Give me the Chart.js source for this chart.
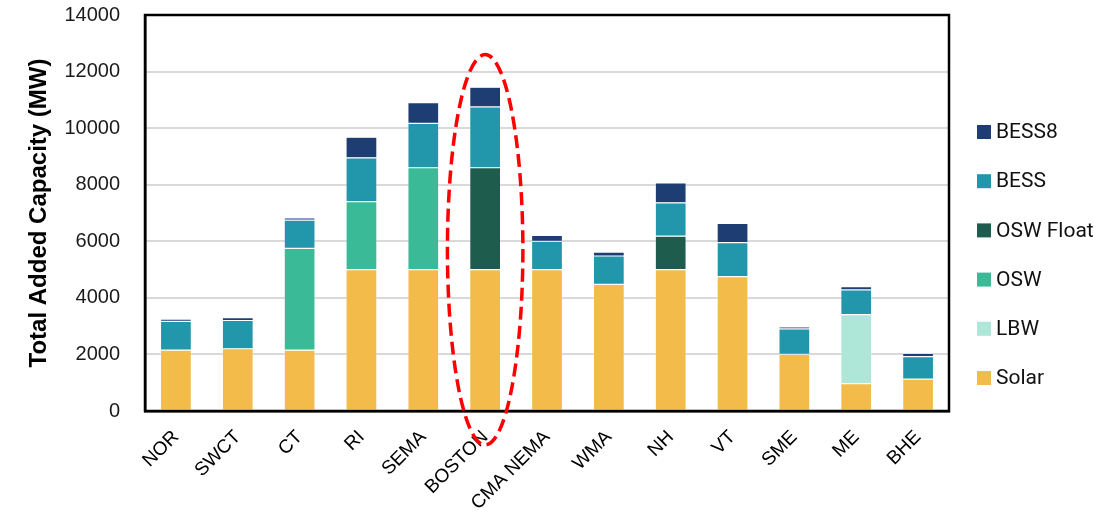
<!DOCTYPE html>
<html>
<head>
<meta charset="utf-8">
<script src="https://cdn.jsdelivr.net/npm/chart.js@4/dist/chart.umd.min.js"></script>
<style>
  html, body { margin: 0; padding: 0; background: #fff; overflow: hidden; }
  #wrap { width: 1094px; height: 527px; position: relative; }
</style>
</head>
<body>
<div id="wrap"><canvas id="c"></canvas></div>
<script>
// Zones
const zones = ['NOR', 'SWCT', 'CT', 'RI', 'SEMA', 'BOSTON', 'CMA NEMA', 'WMA', 'NH', 'VT', 'SME', 'ME', 'BHE'];

// Added capacity by resource type (MW)
const solar     = [2150, 2200, 2150, 5000, 5000, 5000, 5000, 4480, 5000, 4750, 2000,  970, 1130];
const lbw       = [   0,    0,    0,    0,    0,    0,    0,    0,    0,    0,    0, 2440,    0];
const osw       = [   0,    0, 3600, 2400, 3600,    0,    0,    0,    0,    0,    0,    0,    0];
const oswFloat  = [   0,    0,    0,    0,    0, 3600,    0,    0, 1180,    0,    0,    0,    0];
const bess      = [1020, 1000, 1000, 1550, 1570, 2150, 1000, 1000, 1180, 1200,  900,  870,  790];
const bess8     = [  80,  100,   80,  730,  730,  700,  210,  140,  700,  680,   70,  120,  120];

const yTicks = [0, 2000, 4000, 6000, 8000, 10000, 12000, 14000];

// Highlighted zone and vertical extent of the dashed ring (MW)
const ringZone = 'BOSTON';
const ringTop = 12600;
const ringBottom = -1200;

const seg = (label, data, color) => ({
  label, data,
  backgroundColor: color,
  borderColor: 'rgba(255,255,255,0.45)',
  borderWidth: 0.6,
  borderSkipped: false
});

const datasets = [
  seg('Solar', solar, '#F3BC4A'),
  seg('LBW', lbw, '#AEE6D8'),
  seg('OSW', osw, '#3BBA97'),
  seg('OSW Float', oswFloat, '#1E5C4E'),
  seg('BESS', bess, '#2296AA'),
  seg('BESS8', bess8, '#1E3D73')
];

// Legend drawn on the right, top item = last stacked series
const sideLegend = {
  id: 'sideLegend',
  afterDraw(chart) {
    const ctx = chart.ctx;
    const a = chart.chartArea;
    const items = chart.data.datasets.slice().reverse();
    ctx.save();
    ctx.font = '21px Roboto, "Liberation Sans", sans-serif';
    ctx.textBaseline = 'middle';
    ctx.textAlign = 'left';
    items.forEach((ds, i) => {
      const y = a.top + 117 + i * 49.2;
      const x = a.right + 28;
      ctx.fillStyle = ds.backgroundColor;
      ctx.fillRect(x, y - 7, 14, 14);
      ctx.fillStyle = '#111';
      ctx.fillText(ds.label, x + 19, y + 1);
    });
    ctx.restore();
  }
};

// Plot frame and dashed ring around the highlighted zone
const frameAndRing = {
  id: 'frameAndRing',
  afterDraw(chart) {
    const ctx = chart.ctx;
    const a = chart.chartArea;
    const xs = chart.scales.x, ys = chart.scales.y;
    ctx.save();
    ctx.strokeStyle = '#000';
    ctx.lineWidth = 2.5;
    ctx.strokeRect(a.left, a.top, a.right - a.left, a.bottom - a.top);

    const idx = zones.indexOf(ringZone);
    const cx = xs.getPixelForValue(idx);
    const rx = (xs.getPixelForValue(idx + 1) - xs.getPixelForValue(idx)) * 0.61;
    const yT = ys.getPixelForValue(ringTop), yB = ys.getPixelForValue(ringBottom);
    ctx.beginPath();
    ctx.ellipse(cx, (yT + yB) / 2, rx, (yB - yT) / 2, 0, 0, Math.PI * 2);
    ctx.strokeStyle = '#FF0000';
    ctx.lineWidth = 3.5;
    ctx.setLineDash([13, 6]);
    ctx.stroke();
    ctx.restore();
  }
};

new Chart(document.getElementById('c'), {
  type: 'bar',
  data: { labels: zones, datasets },
  options: {
    responsive: true,
    maintainAspectRatio: false,
    animation: false,
    layout: { padding: { left: 0, right: 145, top: 15, bottom: 0 } },
    plugins: {
      legend: { display: false },
      tooltip: { enabled: false }
    },
    datasets: { bar: { categoryPercentage: 1, barPercentage: 0.5 } },
    scales: {
      x: {
        stacked: true,
        grid: { display: false, drawTicks: false },
        border: { display: true, color: '#000', width: 2.5 },
        ticks: {
          minRotation: 45, maxRotation: 45,
          padding: 15,
          color: '#000',
          font: { family: '"Liberation Sans", Arial, sans-serif', size: 19 }
        },
        afterFit(scale) { scale.height = 116; }
      },
      y: {
        stacked: true,
        min: 0, max: 14000,
        afterBuildTicks(scale) { scale.ticks = yTicks.map(v => ({ value: v })); },
        grid: { color: '#d9d9d9', lineWidth: 2, drawTicks: false },
        border: { display: true, color: '#000', width: 2.5 },
        ticks: {
          padding: 25,
          color: '#1a1a1a',
          callback: v => String(v),
          font: { family: '"Liberation Sans", Arial, sans-serif', size: 20 }
        },
        title: {
          display: true,
          text: 'Total Added Capacity (MW)',
          color: '#000',
          padding: { top: 25, bottom: 0 },
          font: { family: '"Liberation Sans", Arial, sans-serif', size: 24, weight: 'bold' }
        },
        afterFit(scale) {
          scale.width = 145;
          scale.paddingTop = 0;
          scale.paddingBottom = 0;
        }
      }
    }
  },
  plugins: [sideLegend, frameAndRing]
});
</script>
</body>
</html>
